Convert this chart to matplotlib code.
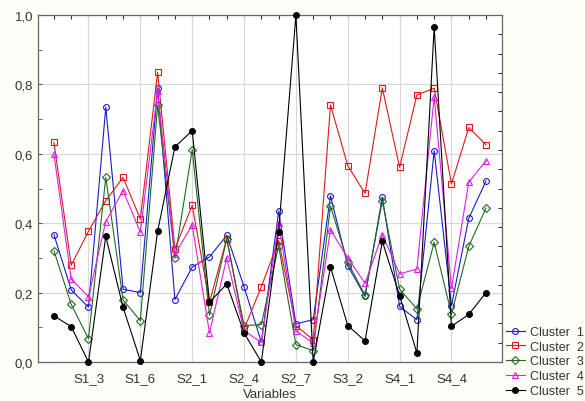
import matplotlib
matplotlib.use("Agg")
import matplotlib.pyplot as plt
import numpy as np
from matplotlib.ticker import FuncFormatter

plt.rcParams['font.family'] = ['Liberation Sans', 'DejaVu Sans']

variables = ["S1_1", "S1_2", "S1_3", "S1_4", "S1_5", "S1_6", "S1_7", "S1_8",
             "S2_1", "S2_2", "S2_3", "S2_4", "S2_5", "S2_6", "S2_7", "S2_8",
             "S3_1", "S3_2", "S3_3", "S3_4", "S4_1", "S4_2", "S4_3", "S4_4",
             "S4_5", "S4_6"]
shown_labels = ["S1_3", "S1_6", "S2_1", "S2_4", "S2_7", "S3_2", "S4_1", "S4_4"]

cluster1 = [0.367, 0.208, 0.158, 0.734, 0.210, 0.200, 0.790, 0.180, 0.274, 0.303,
            0.365, 0.217, 0.057, 0.434, 0.110, 0.122, 0.479, 0.278, 0.189, 0.475,
            0.160, 0.122, 0.609, 0.162, 0.414, 0.522]
cluster2 = [0.633, 0.279, 0.377, 0.465, 0.532, 0.412, 0.835, 0.326, 0.452, 0.172,
            0.356, 0.095, 0.217, 0.350, 0.105, 0.064, 0.741, 0.566, 0.486, 0.790,
            0.561, 0.770, 0.789, 0.513, 0.676, 0.626]
cluster3 = [0.321, 0.166, 0.067, 0.532, 0.179, 0.119, 0.740, 0.300, 0.612, 0.135,
            0.355, 0.105, 0.108, 0.335, 0.050, 0.033, 0.450, 0.287, 0.193, 0.465,
            0.210, 0.153, 0.345, 0.138, 0.333, 0.444]
cluster4 = [0.600, 0.239, 0.188, 0.405, 0.494, 0.374, 0.780, 0.311, 0.395, 0.084,
            0.300, 0.090, 0.057, 0.400, 0.090, 0.054, 0.381, 0.300, 0.227, 0.367,
            0.254, 0.268, 0.765, 0.212, 0.518, 0.580]
cluster5 = [0.133, 0.102, 0.000, 0.362, 0.158, 0.004, 0.377, 0.620, 0.667, 0.172,
            0.225, 0.084, 0.000, 0.376, 1.000, 0.000, 0.274, 0.105, 0.061, 0.348,
            0.191, 0.026, 0.966, 0.103, 0.137, 0.200]

series = [
    ("Cluster  1", cluster1, "#1a1acc", "o", "none"),
    ("Cluster  2", cluster2, "#dd1a1a", "s", "none"),
    ("Cluster  3", cluster3, "#1f6b1f", "D", "none"),
    ("Cluster  4", cluster4, "#e01ee0", "^", "none"),
    ("Cluster  5", cluster5, "#000000", "o", "black"),
]

fig = plt.figure(figsize=(5.85, 4.02), dpi=100)
fig.patch.set_facecolor("#fefef8")
ax = fig.add_axes([0.065, 0.097, 0.793, 0.863])
ax.set_facecolor("white")

x = np.arange(len(variables))
for name, vals, col, mk, fc in series:
    ms = 4.2 if mk != "D" else 3.6
    ax.plot(x, vals, color=col, lw=0.8, marker=mk, markersize=ms,
            markerfacecolor=fc, markeredgecolor=col, markeredgewidth=0.8,
            label=name, clip_on=False, zorder=3)

ax.set_xlim(-0.92, len(variables) - 0.08)
ax.set_ylim(0, 1.0)

idx = [variables.index(s) for s in shown_labels]
ax.set_xticks(idx)
ax.set_xticklabels(shown_labels, fontsize=9.5, color="#333333")
ax.set_yticks(np.arange(0, 1.01, 0.2))
ax.yaxis.set_major_formatter(FuncFormatter(lambda v, p: f"{v:.1f}".replace(".", ",")))
ax.set_yticks(np.arange(0.1, 1.0, 0.2), minor=True)
ax.tick_params(axis="y", which="both", direction="in", length=3, labelsize=9.5,
               labelcolor="#333333", color="#555555")
ax.tick_params(axis="x", which="major", direction="in", length=0, pad=7)
ax.grid(True, which="major", color="#d8d8d8", lw=0.8, zorder=0)
ax.set_axisbelow(True)

# top ticks at each variable, right ticks
axt = ax.secondary_xaxis("top")
axt.set_xticks(x)
axt.set_xticklabels([])
axt.tick_params(direction="in", length=3, color="#333333")
axr = ax.secondary_yaxis("right")
axr.set_yticks(np.arange(1, 18) / 18.0)
axr.set_yticklabels([])
axr.tick_params(direction="in", length=3, color="#333333")
for sp in axt.spines.values():
    sp.set_visible(False)
for sp in axr.spines.values():
    sp.set_visible(False)

for sp in ax.spines.values():
    sp.set_color("#666666")
    sp.set_linewidth(0.9)

ax.set_xlabel("Variables", fontsize=9.5, color="#333333", labelpad=3)

leg = fig.legend(loc="upper left", bbox_to_anchor=(506 / 585, 1 - 327 / 402),
                 frameon=False, fontsize=9.0, handlelength=1.5,
                 handletextpad=0.45, labelspacing=0.22, borderaxespad=0.0,
                 borderpad=0.0)
for t in leg.get_texts():
    t.set_color("#333333")

fig.savefig("out.png", dpi=100, facecolor=fig.get_facecolor())
